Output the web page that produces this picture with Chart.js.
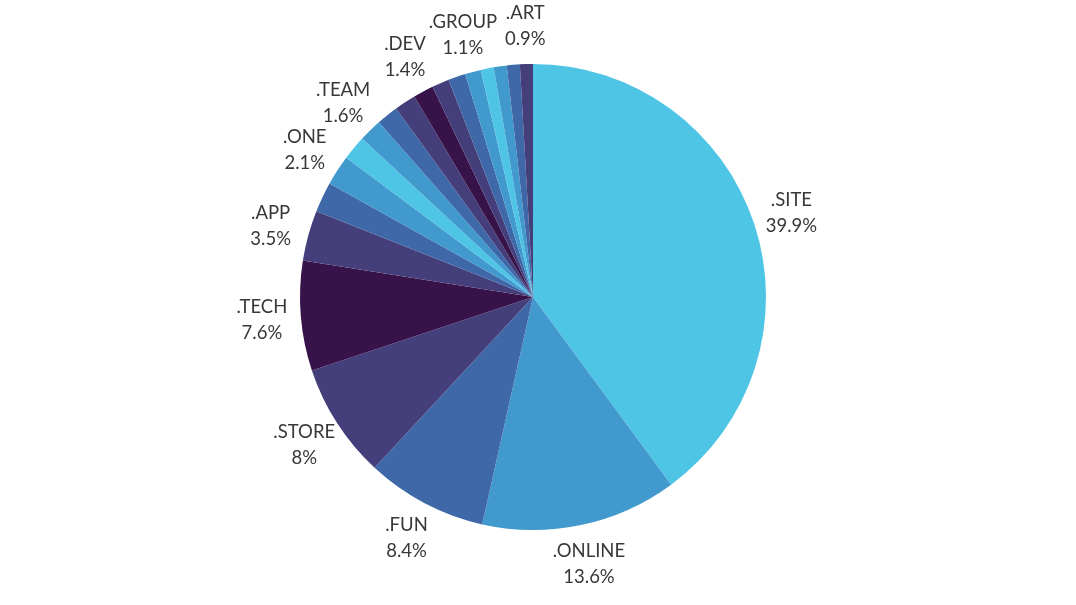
<!DOCTYPE html>
<html>
<head>
<meta charset="utf-8">
<script src="https://cdn.jsdelivr.net/npm/chart.js@4/dist/chart.umd.min.js"></script>
<style>
  html, body { margin: 0; padding: 0; background: #fff; }
  #wrap { width: 1076px; height: 605px; }
</style>
</head>
<body>
<div id="wrap"><canvas id="tldPie"></canvas></div>
<script>
// top-level domains, share of registrations (%)
const domains = ['.SITE', '.ONLINE', '.FUN', '.STORE', '.TECH', '.APP', '.XYZ', '.ONE', '.SPACE', '.TEAM',
                 '.WEBSITE', '.SHOP', '.DEV', '.LIVE', '.CLUB', '.GROUP', '.LINK', '.PRO', '.CLOUD', '.ART'];
const shares = [39.9, 13.6, 8.4, 8, 7.6, 3.5, 2.1, 2.1, 1.7, 1.6,
                1.5, 1.5, 1.4, 1.2, 1.2, 1.1, 0.9, 0.9, 0.9, 0.9];
// only these slices get an outside label in the original
const labelled = ['.SITE', '.ONLINE', '.FUN', '.STORE', '.TECH', '.APP', '.ONE', '.TEAM', '.DEV', '.GROUP', '.ART'];

// colour cycle repeats every 8 slices
const palette = ['#4fc5e6', '#4299cd', '#3f68a8', '#443f7b', '#38134a', '#443f7b', '#3f68a8', '#4299cd'];

const sliceLabels = {
    id: 'sliceLabels',
    afterDatasetsDraw(chart) {
        const ctx = chart.ctx;
        const meta = chart.getDatasetMeta(0);
        const total = shares.reduce((a, b) => a + b, 0);
        ctx.save();
        ctx.font = '18.5px Lato, "Open Sans", sans-serif';
        ctx.fillStyle = '#383838';
        ctx.textAlign = 'center';
        ctx.textBaseline = 'middle';
        meta.data.forEach((arc, i) => {
            if (!labelled.includes(domains[i])) return;
            const mid = (arc.startAngle + arc.endAngle) / 2;
            const dist = arc.outerRadius + 39;
            const x = arc.x + Math.cos(mid) * dist;
            const y = arc.y + Math.sin(mid) * dist;
            const pct = Math.round(shares[i] / total * 1000) / 10;
            ctx.fillText(domains[i], x, y - 12.5);
            ctx.fillText(pct + '%', x, y + 13.5);
        });
        ctx.restore();
    }
};

new Chart(document.getElementById('tldPie'), {
    type: 'pie',
    data: {
        labels: domains,
        datasets: [{
            data: shares,
            backgroundColor: shares.map((v, i) => palette[i % palette.length]),
            borderWidth: 0
        }]
    },
    options: {
        responsive: true,
        maintainAspectRatio: false,
        animation: false,
        layout: {
            padding: { top: 64, bottom: 75, left: 20, right: 30 }
        },
        plugins: {
            legend: { display: false },
            tooltip: { enabled: false }
        }
    },
    plugins: [sliceLabels]
});
</script>
</body>
</html>
